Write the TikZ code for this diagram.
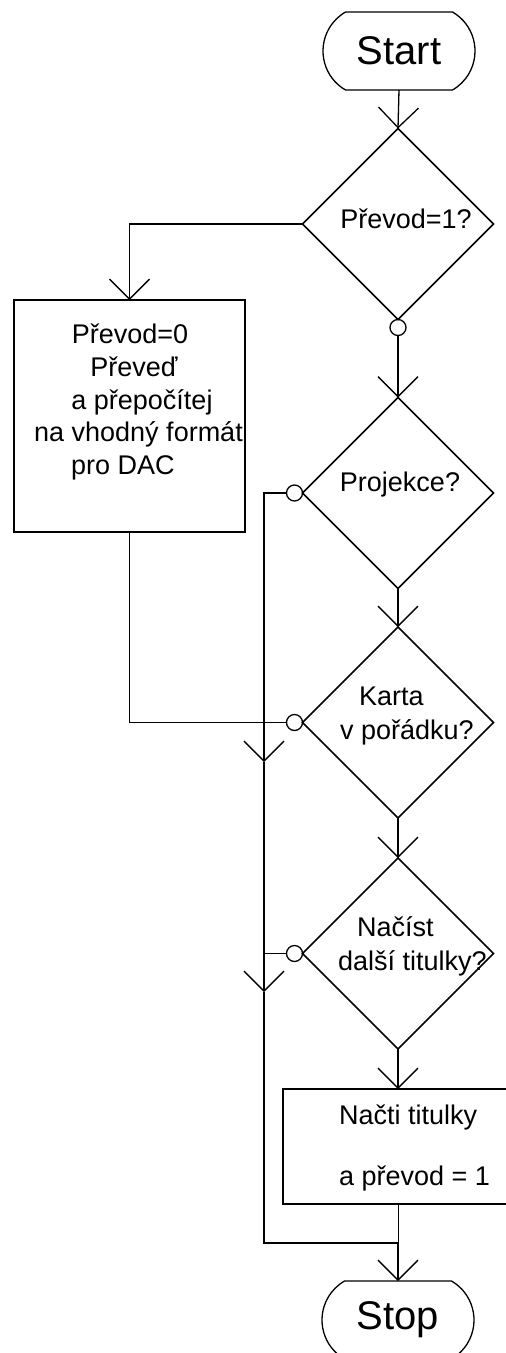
\documentclass[tikz,border=0pt]{standalone}
\usepackage{fontspec}
\setmainfont{Liberation Sans}
\usetikzlibrary{arrows.meta,shapes.geometric,shapes.misc,positioning}
\tikzset{>={Straight Barb[length=20pt,width=40pt]}}

\begin{document}
\begin{tikzpicture}[x=1pt, y=-1pt,
  termbox/.style={rounded rectangle, rounded rectangle arc length=120, draw=black,
    line width=1.3pt, minimum width=152pt, minimum height=78pt, inner sep=0pt,
    outer sep=0pt, font=\fontsize{40}{48}\selectfont},
  decbox/.style={diamond, draw=black, line width=1.5pt, minimum width=191pt,
    minimum height=191pt, inner sep=0pt, outer sep=0pt},
  procbox/.style={rectangle, draw=black, line width=2pt, inner sep=0pt, outer sep=0pt},
  portcirc/.style={circle, draw=black, line width=1.3pt, minimum size=16pt,
    inner sep=0pt, outer sep=0pt},
  dlbl/.style={font=\fontsize{27}{34}\selectfont, inner sep=0pt, align=left},
  blbl/.style={font=\fontsize{27}{32.8}\selectfont, inner sep=0pt, align=center},
  flowarrow/.style={->, line width=1.3pt},
  flowline/.style={line width=1.3pt},
  thinline/.style={line width=1pt}
]
\useasboundingbox (0,0) rectangle (506,1353);

% ---------- Terminals ----------
\node[termbox] (start) at (399,51) {Start};
\node[termbox] (stop) at (398,1320) {Stop};

% ---------- Decisions ----------
\node[decbox, label={[dlbl, xshift=8pt, yshift=5.5pt]center:Převod=1?}] (d1) at (398,224) {};
\node[decbox, label={[dlbl, xshift=2pt, yshift=8pt]center:Projekce?}] (d2) at (398,493) {};
\node[decbox, label={[dlbl, xshift=9pt, yshift=6.5pt]center:\hspace*{19pt}Karta\\v pořádku?}] (d3) at (398,722.5) {};
\node[decbox, label={[dlbl, xshift=14.5pt, yshift=7.5pt]center:\hspace*{19pt}Načíst\\další titulky?}] (d4) at (398,953.5) {};

% ---------- Exit circles ----------
\node[portcirc, below=0pt of d1] (c1) {};
\node[portcirc, left=0pt of d2] (c2) {};
\node[portcirc, left=0pt of d3] (c3) {};
\node[portcirc, left=0pt of d4] (c4) {};

% ---------- Process boxes ----------
\node[procbox, minimum width=231pt, minimum height=232pt,
  label={[blbl, xshift=0.5pt, yshift=14pt]center:Převod=0\\\hspace*{8pt}Převeď\\\hspace*{24pt}a přepočítej\\\hspace*{17pt}na vhodný formát\\pro DAC\hspace*{14pt}}]
  (conv) at (129.5,416) {};
\node[procbox, minimum width=230pt, minimum height=115pt,
  label={[dlbl, font=\fontsize{27}{61}\selectfont, xshift=16.5pt, yshift=-1pt]center:Načti titulky\\a převod = 1}]
  (load) at (398,1146.5) {};

% ---------- Bend points ----------
\coordinate (dn1) at (264,762);
\coordinate (dn2) at (264,992);
\coordinate (merge) at (398,1243);

% ---------- Main flow ----------
\draw[flowarrow] (start.south) -- (d1.north);
\draw[flowarrow] (d1.west) -| (conv.north);
\draw[flowarrow] (c1.south) -- (d2.north);
\draw[flowarrow] (d2.south) -- (d3.north);
\draw[flowarrow] (d3.south) -- (d4.north);
\draw[flowarrow] (d4.south) -- (load.north);
\draw[thinline] (load.south) -- (merge);
\draw[flowarrow] (merge) -- (stop.north);

% ---------- Side branch ----------
\draw[flowarrow] (c2.west) -| (dn1);
\draw[flowarrow] (dn1) -- (dn2);
\draw[flowline] (dn2) |- (merge);
\draw[flowline] (conv.south) |- (c3.west);
\draw[flowline] (c4.west) -- (c4.west -| dn1);

\end{tikzpicture}
\end{document}
